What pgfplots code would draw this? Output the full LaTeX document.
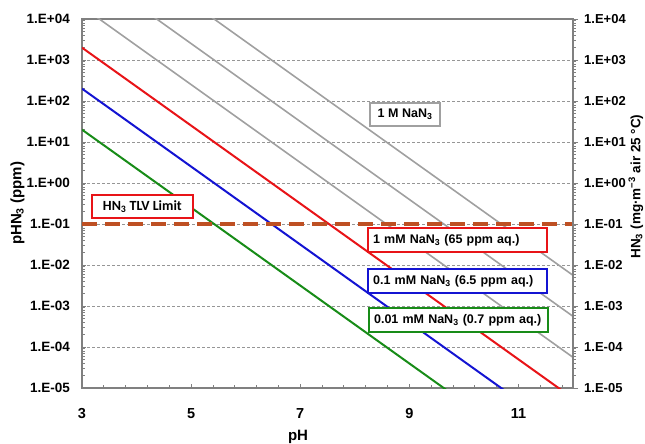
\documentclass[border=0pt]{standalone}
\usepackage{fontspec}
\setmainfont{Liberation Sans}
\newfontfamily\calfont{Carlito}
\usepackage{pgfplots}
\pgfplotsset{compat=1.18}
\definecolor{axgray}{RGB}{128,128,128}
\definecolor{gridgray}{RGB}{150,150,150}
\definecolor{lngray}{RGB}{160,160,160}
\definecolor{lnred}{RGB}{232,20,24}
\definecolor{lnblue}{RGB}{20,20,210}
\definecolor{lngreen}{RGB}{24,140,24}
\definecolor{tlv}{RGB}{190,80,35}
\begin{document}
\begin{tikzpicture}
\useasboundingbox (0,0) rectangle (645pt,444pt);
\begin{axis}[
 at={(82pt,56pt)}, anchor=south west,
 scale only axis, width=491pt, height=369pt,
 xmin=3, xmax=12, ymin=1e-5, ymax=1e4, ymode=log,
 xtick={3,5,7,9,11}, xticklabels={3,5,7,9,11},
 minor xtick={3.4,3.8,4.2,4.6,5.4,5.8,6.2,6.6,7.4,7.8,8.2,8.6,9.4,9.8,10.2,10.6,11.4,11.8},
 ytick={1e-5,1e-4,1e-3,1e-2,1e-1,1,10,100,1000,10000},
 yticklabels={1.E-05,1.E-04,1.E-03,1.E-02,1.E-01,1.E+00,1.E+01,1.E+02,1.E+03,1.E+04},
 minor ytick={2e-5,3e-5,4e-5,5e-5,6e-5,7e-5,8e-5,9e-5,
  2e-4,3e-4,4e-4,5e-4,6e-4,7e-4,8e-4,9e-4,
  2e-3,3e-3,4e-3,5e-3,6e-3,7e-3,8e-3,9e-3,
  2e-2,3e-2,4e-2,5e-2,6e-2,7e-2,8e-2,9e-2,
  0.2,0.3,0.4,0.5,0.6,0.7,0.8,0.9,
  2,3,4,5,6,7,8,9,
  20,30,40,50,60,70,80,90,
  200,300,400,500,600,700,800,900,
  2000,3000,4000,5000,6000,7000,8000,9000},
 axis line style={axgray, line width=1.5pt},
 tick style={axgray, line width=0.8pt},
 major tick length=4pt, minor tick length=3pt,
 tick align=inside,
 xtick pos=bottom, ytick pos=left,
 ymajorgrids,
 major grid style={gridgray, dash pattern=on 3pt off 2pt, line width=0.8pt},
 yticklabel style={font=\bfseries\fontsize{13.5}{16}\selectfont, anchor=east, inner sep=0pt, xshift=-12pt},
 xticklabel style={font=\bfseries\fontsize{14.5}{17}\selectfont, anchor=base, inner sep=0pt, yshift=-30pt},
 ylabel={pHN\textsubscript{3} (ppm)},
 ylabel style={font=\bfseries\fontsize{15}{18}\selectfont, at={(axis description cs:-0.1314,0.5)}, anchor=center},
 xlabel={pH},
 xlabel style={font=\bfseries\fontsize{15}{18}\selectfont, at={(axis description cs:0.44,-0.141)}, anchor=base},
]
\addplot[lngray, line width=1.6pt] coordinates {(3,2e6) (12,5.6e-3)};
\addplot[lngray, line width=1.6pt] coordinates {(3,2e5) (12,5.6e-4)};
\addplot[lngray, line width=1.6pt] coordinates {(3,2e4) (12,5.6e-5)};
\addplot[lnred, line width=2pt] coordinates {(3,2000) (12,5.6e-6)};
\addplot[lnblue, line width=2pt] coordinates {(3,200) (12,5.6e-7)};
\addplot[lngreen, line width=2pt] coordinates {(3,20) (12,5.6e-8)};
\addplot[tlv, line width=4pt, dash pattern=on 15pt off 8pt] coordinates {(3,0.1) (12,0.1)};
\node[draw=lnred, line width=2pt, fill=white, minimum width=101pt, minimum height=23pt, inner sep=0pt, font=\calfont\bfseries\fontsize{14}{16}\selectfont] at (rel axis cs:0.123,0.492) {HN\textsubscript{3} TLV Limit};
\node[draw=lngray, line width=1.6pt, fill=white, minimum width=70pt, minimum height=23pt, inner sep=0pt, font=\bfseries\fontsize{12.5}{15}\selectfont] at (rel axis cs:0.658,0.741) {1 M NaN\textsubscript{3}};
\node[draw=lnred, line width=2pt, fill=white, text width=169pt, inner xsep=5pt, inner ysep=0pt, minimum height=24pt, align=left, font=\bfseries\fontsize{12.5}{15}\selectfont] at (rel axis cs:0.765,0.401) {1 mM NaN\textsubscript{3} (65 ppm aq.)};
\node[draw=lnblue, line width=2pt, fill=white, text width=169pt, inner xsep=5pt, inner ysep=0pt, minimum height=24pt, align=left, font=\bfseries\fontsize{12.5}{15}\selectfont] at (rel axis cs:0.765,0.290) {0.1 mM NaN\textsubscript{3} (6.5 ppm aq.)};
\node[draw=lngreen, line width=2pt, fill=white, text width=169pt, inner xsep=5pt, inner ysep=0pt, minimum height=24pt, align=left, font=\bfseries\fontsize{12.5}{15}\selectfont] at (rel axis cs:0.767,0.184) {0.01 mM NaN\textsubscript{3} (0.7 ppm aq.)};
\end{axis}
\begin{axis}[
 at={(82pt,56pt)}, anchor=south west,
 scale only axis, width=491pt, height=369pt,
 xmin=3, xmax=12, ymin=1e-5, ymax=1e4, ymode=log,
 hide x axis, axis y line*=right,
 ytick={1e-5,1e-4,1e-3,1e-2,1e-1,1,10,100,1000,10000},
 yticklabels={1.E-05,1.E-04,1.E-03,1.E-02,1.E-01,1.E+00,1.E+01,1.E+02,1.E+03,1.E+04},
 minor ytick={},
 axis line style={axgray, line width=1.5pt},
 tick style={axgray, line width=0.8pt},
 major tick length=5pt, tick align=outside,
 yticklabel style={font=\bfseries\fontsize{13}{16}\selectfont, anchor=west, inner sep=0pt, xshift=6pt},
 ylabel={HN\textsubscript{3} (mg·m\textsuperscript{−3} air 25 °C)},
 ylabel style={font=\bfseries\fontsize{13.5}{16}\selectfont, at={(axis description cs:1.128,0.546)}, anchor=center, rotate=0},
]
\addplot[draw=none] coordinates {(3,1) (12,1)};
\end{axis}
\end{tikzpicture}
\end{document}
